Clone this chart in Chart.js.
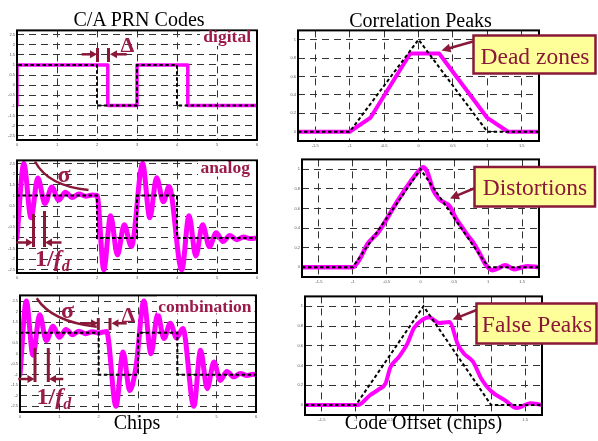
<!DOCTYPE html>
<html><head><meta charset="utf-8">
<script src="https://cdn.jsdelivr.net/npm/chart.js@4.4.0/dist/chart.umd.min.js"></script>
<script>
// ---- tick labels ----
const codeXTicks = [0, 1, 2, 3, 4, 5, 6];
const codeYTicks = [-2.5, -2, -1.5, -1, -0.5, 0, 0.5, 1, 1.5, 2, 2.5];
const peakXTicks = [-1.5, -1, -0.5, 0, 0.5, 1, 1.5];
const peakYTicks = [0, 0.2, 0.4, 0.6, 0.8, 1];

// ---- C/A PRN code waveforms [chip, level] ----
const idealCode = [[0,-1],[0,1],[2,1],[2,-1],[3,-1],[3,1],[4,1],[4,-1],[6,-1]];
const digitalCode = [[0,-1],[0,1],[2.27,1],[2.27,-1],[3,-1],[3,1],[4.27,1],[4.27,-1],[6,-1]];
const analogCode = [[0,-1],[0.17,2.5],[0.35,-0.05],[0.52,1.82],[0.7,0.62],[0.87,1.4],[1.04,0.78],[1.21,1.15],
  [1.38,0.9],[1.55,1.07],[1.72,0.96],[1.88,1.02],[2.0,1.0],[2.17,-2.5],[2.34,0.05],[2.51,-1.8],[2.68,-0.38],
  [2.86,-1.4],[3.14,2.5],[3.32,-0.05],[3.49,1.83],[3.66,0.7],[3.8,1.42],[4.12,-2.5],[4.3,0.05],[4.47,-1.85],
  [4.64,-0.38],[4.81,-1.42],[4.98,-0.75],[5.15,-1.17],[5.32,-0.88],[5.49,-1.08],[5.66,-0.95],[5.83,-1.03],[6,-1]];
const comboCode = [[0,-1],[0.16,2.5],[0.33,-0.07],[0.5,1.85],[0.67,0.62],[0.84,1.3],[1.0,0.78],[1.17,1.15],
  [1.34,0.9],[1.5,1.07],[1.67,0.95],[1.84,1.04],[2.0,0.98],[2.2,1.06],[2.44,-2.5],[2.62,0.08],[2.79,-1.75],
  [2.95,-0.6],[3.15,2.5],[3.33,0.0],[3.5,1.88],[3.66,0.72],[3.82,1.45],[3.98,0.75],[4.14,1.2],[4.42,-2.5],
  [4.59,0.16],[4.76,-1.66],[4.93,-0.4],[5.09,-1.27],[5.26,-0.84],[5.43,-1.1],[5.6,-0.94],[5.77,-1.04],[5.93,-0.98],[6,-1]];

// ---- correlation peaks [code offset, correlation] ----
const idealPeak = [[-1.75,0],[-1,0],[0,1],[1,0],[1.75,0]];
const digitalPeak = [[-1.75,0],[-1,0],[-0.7,0.15],[-0.12,0.85],[0.3,0.85],[1.0,0.15],[1.3,0],[1.75,0]];
const analogPeak = [[-1.75,0],[-1.0,0],[-0.9,0.08],[-0.78,0.24],[-0.7,0.3],[-0.62,0.36],[-0.5,0.49],[-0.38,0.63],
  [-0.25,0.77],[-0.12,0.9],[0.0,1.0],[0.04,1.02],[0.1,0.97],[0.18,0.8],[0.27,0.7],[0.35,0.66],[0.43,0.62],
  [0.52,0.5],[0.6,0.42],[0.7,0.32],[0.78,0.25],[0.88,0.13],[0.97,0.02],[1.06,-0.03],[1.15,-0.01],[1.25,0.02],
  [1.38,-0.02],[1.5,0.0],[1.58,0.01],[1.75,0]];
const comboPeak = [[-1.75,0],[-0.97,0],[-0.79,0.1],[-0.66,0.16],[-0.56,0.22],[-0.49,0.38],[-0.36,0.49],[-0.24,0.62],
  [-0.14,0.78],[0,0.87],[0.08,0.89],[0.23,0.83],[0.38,0.84],[0.51,0.61],[0.6,0.52],[0.73,0.44],[0.86,0.26],
  [1.0,0.14],[1.2,0.05],[1.38,-0.03],[1.58,0.02],[1.75,0]];
</script>
<style>
html,body{margin:0;padding:0;background:#fff;}
#wrap{position:relative;width:598px;height:441px;overflow:hidden;background:#fff;}
#wrap canvas{position:absolute;}
#ov{position:absolute;left:0;top:0;}
#ov text{font-family:"Liberation Serif","Times New Roman",serif;}
</style></head><body>
<div id="wrap">
<canvas id="c0"></canvas><canvas id="c1"></canvas><canvas id="c2"></canvas>
<canvas id="c3"></canvas><canvas id="c4"></canvas><canvas id="c5"></canvas>
<svg id="ov" width="598" height="441" xmlns="http://www.w3.org/2000/svg">
  <g fill="#000" font-size="20">
    <text x="139" y="26" text-anchor="middle">C/A PRN Codes</text>
    <text x="420.5" y="26.5" text-anchor="middle">Correlation Peaks</text>
    <text x="137" y="428.5" text-anchor="middle">Chips</text>
    <text x="423.5" y="428.5" text-anchor="middle">Code Offset (chips)</text>
  </g>
  <g fill="#fff" stroke="none">
    <rect x="200" y="31.5" width="55.5" height="14.5"/>
    <rect x="198" y="161.5" width="57.5" height="15"/>
    <rect x="157" y="296.5" width="97.5" height="17"/>
  </g>
  <g fill="#9A1A4A" font-weight="bold">
    <text x="251" y="42" text-anchor="end" font-size="17.5">digital</text>
    <text x="250" y="172.5" text-anchor="end" font-size="17.5">analog</text>
    <text x="251.5" y="312" text-anchor="end" font-size="17.5">combination</text>
    <text x="127.5" y="51.5" text-anchor="middle" font-size="22">Δ</text>
    <text x="128.5" y="321.5" text-anchor="middle" font-size="22">Δ</text>
    <text x="64" y="182" text-anchor="middle" font-size="24">σ</text>
    <text x="67.5" y="318" text-anchor="middle" font-size="24">σ</text>
    <text x="35" y="266" font-size="24">1/<tspan font-style="italic">f</tspan><tspan font-style="italic" font-size="16" dy="5">d</tspan></text>
    <text x="36.5" y="404" font-size="24">1/<tspan font-style="italic">f</tspan><tspan font-style="italic" font-size="16" dy="5">d</tspan></text>
  </g>
  <g id="marks" stroke="#8A1838" fill="none" stroke-width="2.5"></g>
  <g stroke="#8A1838" stroke-width="2.5" fill="#FFFF99">
    <rect x="473.5" y="35.5" width="122" height="38"/>
    <rect x="474.5" y="167" width="120.5" height="39.5"/>
    <rect x="476.5" y="303.5" width="120" height="40"/>
  </g>
  <g fill="#8A1838" font-size="23.5" text-anchor="middle">
    <text x="535" y="63.5">Dead zones</text>
    <text x="535" y="195">Distortions</text>
    <text x="537" y="332">False Peaks</text>
  </g>
</svg>
</div>
<script>
const NS = 'http://www.w3.org/2000/svg';
const marks = document.getElementById('marks');
function el(tag, attrs) { const e = document.createElementNS(NS, tag); for (const k in attrs) e.setAttribute(k, attrs[k]); marks.appendChild(e); return e; }
function seg(x1, y1, x2, y2, w) { el('line', {x1, y1, x2, y2, 'stroke-width': w || 2.5}); }
function arrow(x1, y1, x2, y2, hl, hw) {
  hl = hl || 7; hw = hw || 4;
  const dx = x2 - x1, dy = y2 - y1, L = Math.hypot(dx, dy), ux = dx / L, uy = dy / L;
  const bx = x2 - ux * hl, by = y2 - uy * hl;
  seg(x1, y1, bx + ux, by + uy, 2.5);
  el('polygon', {points: `${x2},${y2} ${bx - uy * hw},${by + ux * hw} ${bx + uy * hw},${by - ux * hw}`, fill: '#8A1838', stroke: 'none'});
}
// Delta (digital)
arrow(81.7, 54.3, 97, 54.3); arrow(126.7, 54.3, 110, 54.3);
seg(97.5, 48, 97.5, 62, 3); seg(108.5, 48, 108.5, 62, 3);
// sigma arc + 1/fd (analog)
el('path', {d: 'M35,161.5 Q48,186 88.5,190', 'stroke-width': 2.5});
seg(33.5, 214, 33.5, 247, 3); seg(44.5, 211, 44.5, 247, 3);
arrow(16.5, 242.5, 33, 242.5); arrow(61.5, 242.5, 45, 242.5);
// combination
el('path', {d: 'M36.7,298.3 Q52,322 96.7,326.7', 'stroke-width': 2.5});
arrow(81.7, 323.3, 98, 323.3); arrow(126.7, 323.3, 111.5, 323.3);
seg(98.3, 318, 98.3, 330, 3); seg(110, 318, 110, 330, 3);
seg(35, 348, 35, 382, 3); seg(48.3, 348, 48.3, 382, 3);
arrow(18.3, 379, 34.5, 379); arrow(63.3, 379, 49, 379);
// callout arrows
arrow(473, 41.5, 441.5, 50.5, 9, 4.5);
arrow(475, 188, 450, 198.5, 9, 4.5);
arrow(476.5, 310, 452.5, 319.5, 9, 4.5);

const toXY = a => a.map(([x, y]) => ({x, y}));
const framePlugin = {
  id: 'frame',
  afterDatasetsDraw(chart) {
    const {ctx, chartArea: a} = chart;
    ctx.save(); ctx.setLineDash([]); ctx.strokeStyle = '#000'; ctx.lineWidth = 2;
    ctx.strokeRect(a.left, a.top, a.right - a.left, a.bottom - a.top); ctx.restore();
  }
};
const PADL = 16, PADT = 4, PADR = 4, PADB = 10;
function makeChart(id, box, xr, yr, xt, yt, ideal, real, lw, smooth) {
  const cv = document.getElementById(id);
  const w = box.W + PADL + PADR, h = box.H + PADT + PADB;
  cv.width = w; cv.height = h; cv.style.width = w + 'px'; cv.style.height = h + 'px';
  cv.style.left = (box.L - PADL) + 'px'; cv.style.top = (box.T - PADT) + 'px';
  const axis = (min, max, ticks, isX) => ({
    type: 'linear', min, max,
    afterBuildTicks: s => { s.ticks = ticks.map(v => ({value: v})); },
    afterFit: s => { if (isX) s.height = PADB; else s.width = PADL; },
    grid: {color: '#333', lineWidth: 1, drawTicks: false},
    border: {display: false, dash: [7, 5]},
    ticks: {font: {size: 4, family: 'Liberation Sans'}, color: '#555', padding: 2, maxRotation: 0, autoSkip: false,
            callback: v => String(v)}
  });
  return new Chart(cv, {
    type: 'line',
    data: {datasets: [
      {data: toXY(ideal), borderColor: '#000', borderWidth: 2, borderDash: [3.5, 2.5], pointRadius: 0, tension: 0, fill: false},
      {data: toXY(real), borderColor: '#FF00FF', borderWidth: lw, pointRadius: 0, fill: false,
       cubicInterpolationMode: smooth ? 'monotone' : 'default', tension: 0,
       borderCapStyle: 'round', borderJoinStyle: 'round'}
    ]},
    options: {
      responsive: false, maintainAspectRatio: false, animation: false, devicePixelRatio: 1,
      layout: {padding: {left: 0, top: PADT, right: PADR, bottom: 0}},
      plugins: {legend: {display: false}, tooltip: {enabled: false}},
      scales: {x: axis(xr[0], xr[1], xt, true), y: axis(yr[0], yr[1], yt, false)}
    },
    plugins: [framePlugin]
  });
}
makeChart('c0', {L: 17, T: 30, W: 240, H: 110}, [0, 6], [-2.7, 2.7], codeXTicks, codeYTicks, idealCode, digitalCode, 3.5, false);
makeChart('c1', {L: 17, T: 160, W: 240, H: 113}, [0, 6], [-2.65, 2.65], codeXTicks, codeYTicks, idealCode, analogCode, 5, true);
makeChart('c2', {L: 20, T: 295, W: 236, H: 117}, [0, 6], [-2.77, 2.77], codeXTicks, codeYTicks, idealCode, comboCode, 5, true);
makeChart('c3', {L: 298, T: 30, W: 241, H: 111}, [-1.75, 1.75], [-0.1, 1.1], peakXTicks, peakYTicks, idealPeak, digitalPeak, 4, false);
makeChart('c4', {L: 302, T: 159, W: 237, H: 118}, [-1.75, 1.75], [-0.1, 1.1], peakXTicks, peakYTicks, idealPeak, analogPeak, 4.5, true);
makeChart('c5', {L: 305, T: 296, W: 237, H: 119}, [-1.75, 1.75], [-0.1, 1.1], peakXTicks, peakYTicks, idealPeak, comboPeak, 4, true);
</script>
</body></html>
